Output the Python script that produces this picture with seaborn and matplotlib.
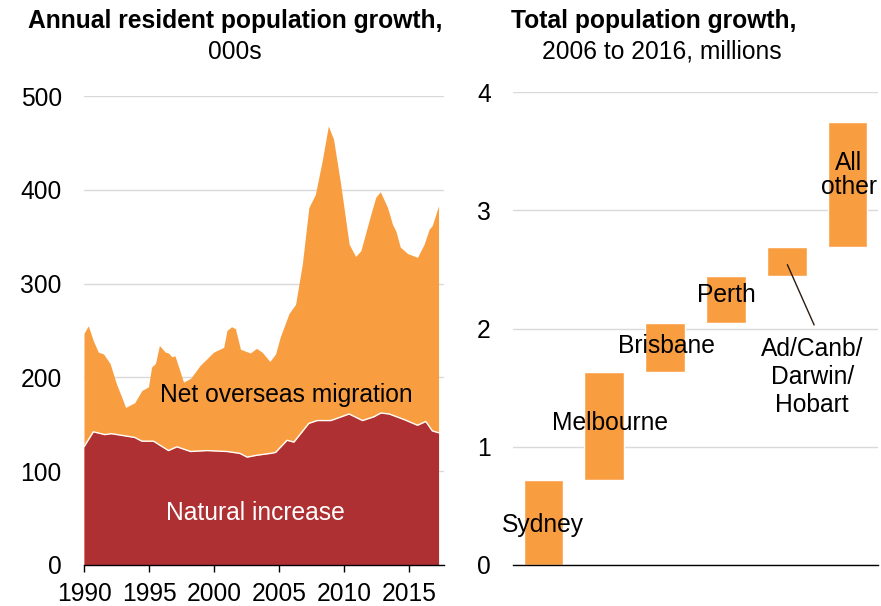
import numpy as np
import pandas as pd
import matplotlib
matplotlib.use("Agg")
import matplotlib.pyplot as plt
import seaborn as sns

# -------------------------
# data
years_total = [1990.0, 1990.33, 1990.72, 1991.1, 1991.5, 1992.0, 1992.5, 1992.9, 1993.2,
               1993.9, 1994.45, 1994.96, 1995.2, 1995.5, 1995.8, 1996.25, 1996.5, 1996.76,
               1997.0, 1997.66, 1998.2, 1998.95, 1999.98, 2000.75, 2001.0, 2001.35, 2001.65,
               2002.04, 2002.8, 2003.27, 2003.7, 2004.3, 2004.74, 2005.1, 2005.77, 2006.28,
               2006.8, 2007.3, 2007.8, 2008.33, 2008.8, 2009.2, 2009.75, 2010.4, 2010.9,
               2011.3, 2012.07, 2012.45, 2012.8, 2013.36, 2013.74, 2014.0, 2014.33, 2014.9,
               2015.66, 2016.17, 2016.56, 2016.8, 2017.28]
total_growth = [247, 255, 239, 227, 225, 215, 193, 179, 168,
                173, 186, 190, 211, 215, 234, 227, 226, 222,
                223, 195, 199, 213, 227, 232, 250, 254, 252,
                230, 226, 231, 227, 217, 225, 243, 268, 278,
                321, 381, 395, 431, 468, 454, 406, 342, 329,
                335, 374, 392, 398, 381, 363, 356, 339, 332,
                328, 342, 358, 362, 383]

years_natural = [1990.0, 1990.72, 1991.6, 1992.1, 1993.0, 1993.9, 1994.45, 1995.35, 1996.5,
                 1997.15, 1998.2, 1999.46, 2001.0, 2002.0, 2002.55, 2003.3, 2004.35, 2004.74,
                 2005.63, 2006.15, 2007.3, 2007.95, 2009.0, 2010.4, 2011.43, 2012.3, 2012.84,
                 2013.48, 2014.64, 2015.66, 2016.3, 2016.8, 2017.28]
natural_increase = [126, 142, 139, 140, 138, 136, 132, 132, 122,
                    126, 121, 122, 121, 119, 115, 117, 119, 120,
                    133, 131, 151, 154, 154, 161, 154, 158, 162,
                    161, 155, 149, 153, 143, 141]

cities = ["Sydney", "Melbourne", "Brisbane", "Perth", "Ad/Canb/\nDarwin/\nHobart", "All\nother"]
city_growth = [0.72, 0.91, 0.42, 0.39, 0.25, 1.06]

ORANGE = "#F99D41"
RED = "#AF3032"
GRID = "#d9d9d9"
FS = 17.7

sns.set_theme(style="white")
plt.rcParams["font.family"] = ["Liberation Sans", "DejaVu Sans"]
plt.rcParams["text.color"] = "black"
plt.rcParams["xtick.color"] = "black"
plt.rcParams["ytick.color"] = "black"

fig = plt.figure(figsize=(8.81, 6.06), dpi=100)
ax1 = fig.add_axes([84 / 881, 1 - 565 / 606, 360 / 881, 469 / 606])
ax2 = fig.add_axes([513 / 881, 1 - 565 / 606, 365 / 881, 473 / 606])

# -------------------------
# left panel: stacked areas
ax1.fill_between(years_total, total_growth, 0, color=ORANGE, lw=0, zorder=2)
ax1.fill_between(years_natural, natural_increase, 0, color=RED, lw=0, zorder=3)
nat = pd.DataFrame({"year": years_natural, "value": natural_increase})
sns.lineplot(data=nat, x="year", y="value", ax=ax1, color="white", lw=1.0, zorder=4)

ax1.set_xlim(1990, 2017.7)
ax1.set_ylim(0, 500)
ax1.set_yticks([0, 100, 200, 300, 400, 500])
ax1.set_xticks([1990, 1995, 2000, 2005, 2010, 2015])
ax1.yaxis.grid(True, color=GRID, lw=1)
ax1.set_axisbelow(True)
ax1.set_xlabel("")
ax1.set_ylabel("")
for s in ["top", "right", "left"]:
    ax1.spines[s].set_visible(False)
ax1.spines["bottom"].set_color("black")
ax1.spines["bottom"].set_linewidth(1)
ax1.spines["bottom"].set_zorder(5)
ax1.tick_params(axis="y", length=0, pad=16, labelsize=FS)
ax1.tick_params(axis="x", length=5, width=1, color="black", direction="out",
                pad=7, labelsize=FS, bottom=True)

ax1.text(2005.6, 181, "Net overseas migration", ha="center", va="center", fontsize=FS, zorder=6)
ax1.text(2003.2, 55, "Natural increase", ha="center", va="center", fontsize=FS, color="white", zorder=6)

# -------------------------
# right panel: waterfall
bases = np.concatenate([[0], np.cumsum(city_growth)[:-1]])
bars = pd.DataFrame({"city": cities, "growth": city_growth})
sns.barplot(data=bars, x="city", y="growth", ax=ax2, color=ORANGE, width=0.65,
            errorbar=None, bottom=bases, saturation=1, zorder=2)

ax2.set_xlim(-0.5, 5.5)
ax2.set_ylim(0, 4)
ax2.set_yticks([0, 1, 2, 3, 4])
ax2.set_xticks([])
ax2.yaxis.grid(True, color=GRID, lw=1)
ax2.set_axisbelow(True)
ax2.set_xlabel("")
ax2.set_ylabel("")
for s in ["top", "right", "left"]:
    ax2.spines[s].set_visible(False)
ax2.spines["bottom"].set_color("black")
ax2.spines["bottom"].set_linewidth(1)
ax2.tick_params(axis="y", length=0, pad=16, labelsize=FS)

label_pos = [(0.0, 0.34), (1.09, 1.2), (2.02, 1.85), (3.01, 2.28), (4.42, 1.59), (5.02, 3.3)]
spacing = [1.2, 1.2, 1.2, 1.2, 1.22, 1.0]
for name, (lx, ly), sp in zip(cities, label_pos, spacing):
    ax2.text(lx, ly, name, ha="center", va="center", multialignment="center",
             fontsize=FS, zorder=5, linespacing=sp)
ax2.plot([4.01, 4.45], [2.54, 2.03], color="#2b1a10", lw=1, zorder=5)

# -------------------------
# titles
fig.text(235 / 881, 1 - 21 / 606, "Annual resident population growth,", ha="center", va="center",
         fontsize=FS, fontweight="bold")
fig.text(235 / 881, 1 - 52 / 606, "000s", ha="center", va="center", fontsize=FS)
fig.text(654 / 881, 1 - 21 / 606, "Total population growth,", ha="center", va="center",
         fontsize=FS, fontweight="bold")
fig.text(662 / 881, 1 - 52 / 606, "2006 to 2016, millions", ha="center", va="center", fontsize=FS)

fig.savefig("out.png", dpi=100)
